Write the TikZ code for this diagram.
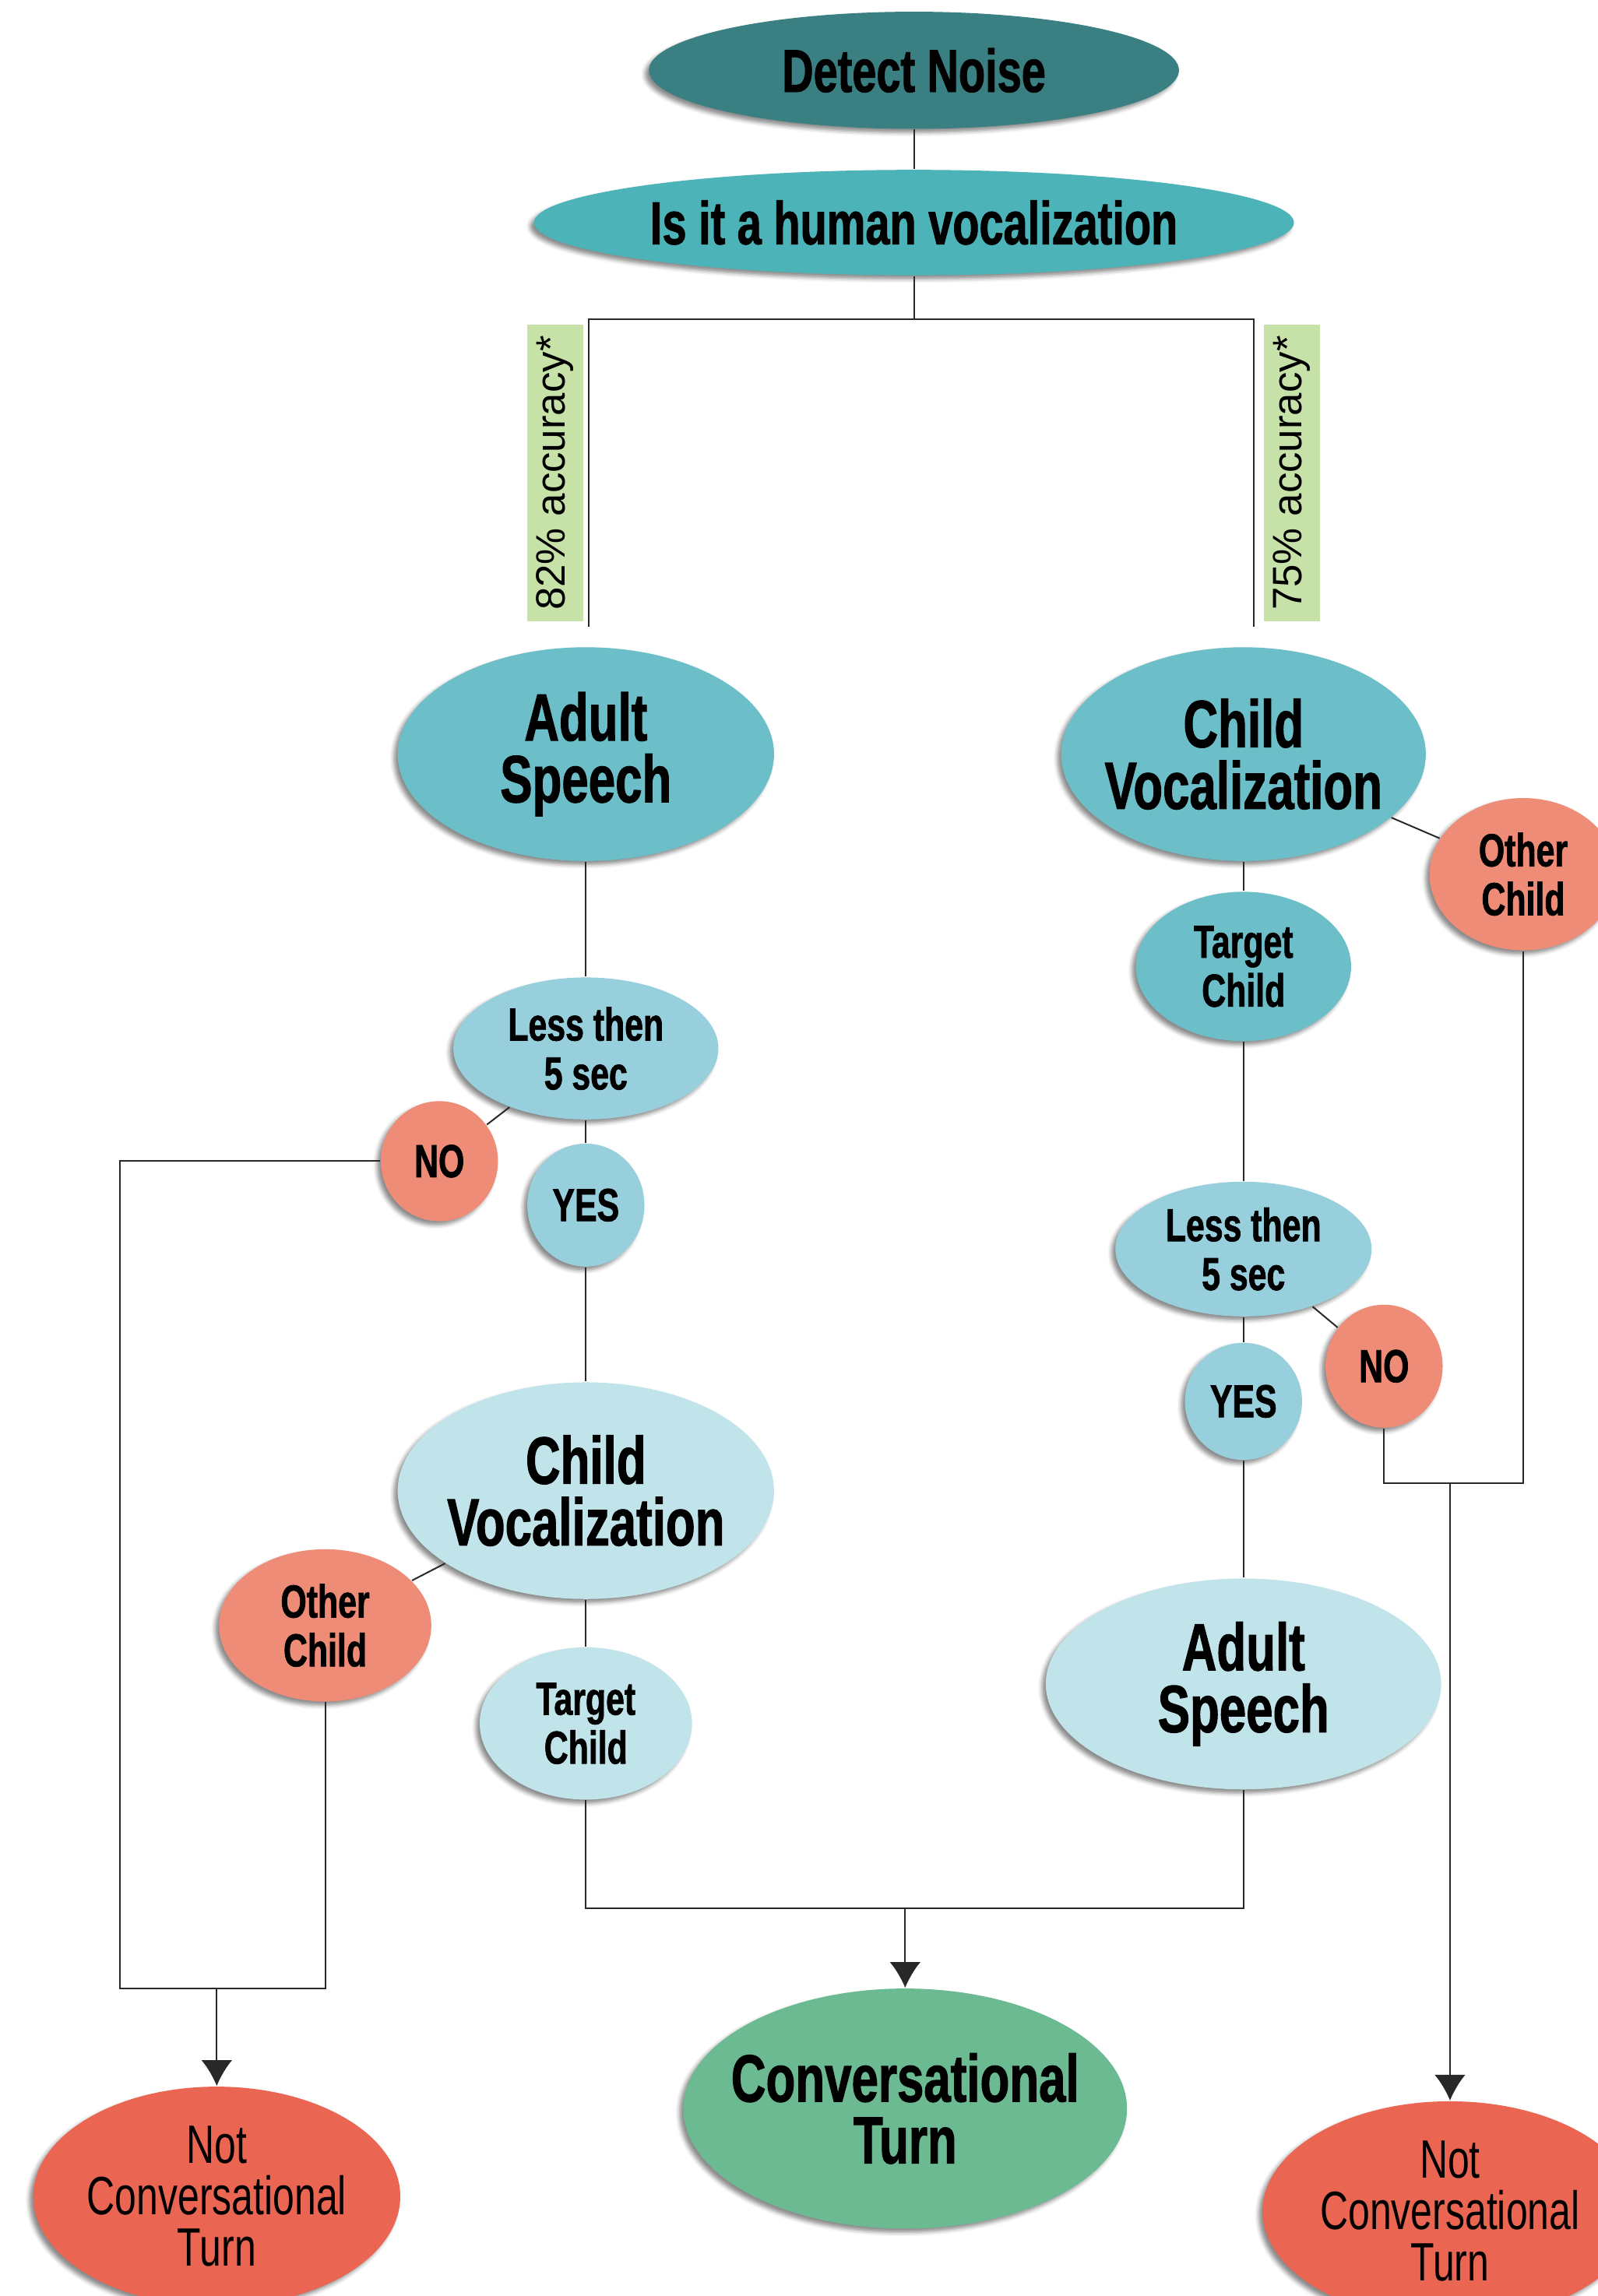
\documentclass[tikz,border=0pt]{standalone}
\usepackage{fontspec}
\usepackage{tikz}
\usetikzlibrary{shapes.geometric}
\usetikzlibrary{arrows.meta,shadows.blur}
\setmainfont{Liberation Sans}
\newfontfamily\condfont{Liberation Sans}[FakeStretch=0.72,BoldFeatures={FakeBold=1.2}]
\definecolor{dt}{RGB}{58,128,130}
\definecolor{t}{RGB}{76,180,184}
\definecolor{mc}{RGB}{108,190,200}
\definecolor{lc}{RGB}{152,207,220}
\definecolor{pc}{RGB}{192,228,234}
\definecolor{sa}{RGB}{238,140,120}
\definecolor{rd}{RGB}{234,102,82}
\definecolor{gr}{RGB}{108,186,146}
\definecolor{ag}{RGB}{198,226,168}
\definecolor{ln}{RGB}{40,40,40}
\tikzstyle{bubble}=[ellipse,inner sep=0pt,align=center,
  blur shadow={shadow xshift=-1.5pt,shadow yshift=-1.5pt,shadow blur steps=4,shadow blur radius=1.5pt,shadow opacity=45}]
\tikzstyle{big}=[inner xsep=-8pt,font=\condfont\bfseries\fontsize{26}{24}\selectfont]
\tikzstyle{mid}=[font=\condfont\bfseries\fontsize{18}{19}\selectfont]
\tikzstyle{acc}=[rotate=90,fill=ag,inner sep=0pt,minimum width=4.06cm,minimum height=0.76cm,
  font=\fontsize{16}{16}\selectfont]

\begin{document}
\begin{tikzpicture}[-,>={Latex[length=10pt,width=12pt]},x=0.02cm,y=-0.02cm,line width=0.6pt,draw=ln]
\useasboundingbox (0,0) rectangle (1091,1568);

				% top
				\draw node [bubble,fill=dt,minimum width=7.24cm,minimum height=1.6cm,
				  font=\condfont\bfseries\fontsize{23.5}{24}\selectfont] (detect) at (624,48) {Detect Noise};
				\draw node [bubble,fill=t,inner xsep=-4pt,minimum width=10.38cm,minimum height=1.44cm,
				  font=\condfont\bfseries\fontsize{23.5}{24}\selectfont] (human) at (624,152) {Is it a human vocalization};
				\coordinate (hj) at (624,218);
				\coordinate (al) at (402,428);
				\coordinate (ar) at (856,428);
				\draw node [acc] (accL) at (379,323) {82\% accuracy*};
				\draw node [acc] (accR) at (882,323) {75\% accuracy*};

				% left branch
				\draw node [bubble,big,fill=mc,minimum width=5.14cm,minimum height=2.92cm] (adultL) at (400,515) {Adult\\Speech};
				\draw node [bubble,mid,fill=lc,minimum width=3.62cm,minimum height=1.94cm] (lessL) at (400,716) {Less then\\5 sec};
				\draw node [bubble,mid,fill=sa,minimum width=1.6cm,minimum height=1.64cm] (noL) at (300,793) {NO};
				\draw node [bubble,mid,fill=lc,minimum width=1.6cm,minimum height=1.68cm] (yesL) at (400,823) {YES};
				\draw node [bubble,big,fill=pc,minimum width=5.14cm,minimum height=2.96cm] (childL) at (400,1018) {Child\\Vocalization};
				\draw node [bubble,mid,fill=sa,minimum width=2.9cm,minimum height=2.08cm] (otherL) at (222,1110) {Other\\Child};
				\draw node [bubble,mid,fill=pc,minimum width=2.9cm,minimum height=2.08cm] (targetL) at (400,1177) {Target\\Child};

				% right branch
				\draw node [bubble,big,fill=mc,minimum width=4.98cm,minimum height=2.92cm] (childR) at (849,515) {Child\\Vocalization};
				\draw node [bubble,mid,fill=sa,minimum width=2.56cm,minimum height=2.08cm] (otherR) at (1040,597) {Other\\Child};
				\draw node [bubble,mid,fill=mc,minimum width=2.94cm,minimum height=2.04cm] (targetR) at (849,660) {Target\\Child};
				\draw node [bubble,mid,fill=lc,minimum width=3.5cm,minimum height=1.84cm] (lessR) at (849,853) {Less then\\5 sec};
				\draw node [bubble,mid,fill=sa,minimum width=1.6cm,minimum height=1.68cm] (noR) at (945,933) {NO};
				\draw node [bubble,mid,fill=lc,minimum width=1.6cm,minimum height=1.6cm] (yesR) at (849,957) {YES};
				\draw node [bubble,big,fill=pc,minimum width=5.4cm,minimum height=2.88cm] (adultR) at (849,1150) {Adult\\Speech};

				% results
				\draw node [bubble,big,fill=gr,minimum width=6.06cm,minimum height=3.28cm] (convT) at (618,1440) {Conversational\\Turn};
				\draw node [bubble,fill=rd,minimum width=5cm,minimum height=3cm,
				  font=\condfont\fontsize{21}{20}\selectfont] (notL) at (148,1500) {Not\\Conversational\\Turn};
				\draw node [bubble,fill=rd,minimum width=5.12cm,minimum height=3cm,
				  font=\condfont\fontsize{21}{20}\selectfont] (notR) at (990,1510) {Not\\Conversational\\Turn};

				\coordinate (cl1) at (82,1358);
				\coordinate (cl2) at (222,1358);
				\coordinate (jl) at (148,1358);
				\coordinate (cm1) at (400,1303);
				\coordinate (cm2) at (849,1303);
				\coordinate (jm) at (618,1303);
				\coordinate (cr1) at (945,1013);
				\coordinate (cr2) at (1040,1013);
				\coordinate (jr) at (990,1013);

				\path 
				(detect) edge[] (human)
				(human) edge[] (hj)
				(adultL) edge[] (lessL)
				(lessL) edge[] (noL)
				(lessL) edge[] (yesL)
				(yesL) edge[] (childL)
				(childL) edge[] (otherL)
				(childL) edge[] (targetL)
				(childR) edge[] (otherR)
				(childR) edge[] (targetR)
				(targetR) edge[] (lessR)
				(lessR) edge[] (noR)
				(lessR) edge[] (yesR)
				(yesR) edge[] (adultR)
				;

				\draw (al) -- (al |- hj) -- (ar |- hj) -- (ar);
				\draw (noL) -| (cl1) -- (cl2) -- (otherL);
				\draw (targetL) -- (cm1) -- (cm2) -- (adultR);
				\draw (noR) -- (cr1) -- (cr2) -- (otherR);
				\draw[->] (jl) -- (notL);
				\draw[->] (jm) -- (convT);
				\draw[->] (jr) -- (notR);
			\end{tikzpicture}
\end{document}
